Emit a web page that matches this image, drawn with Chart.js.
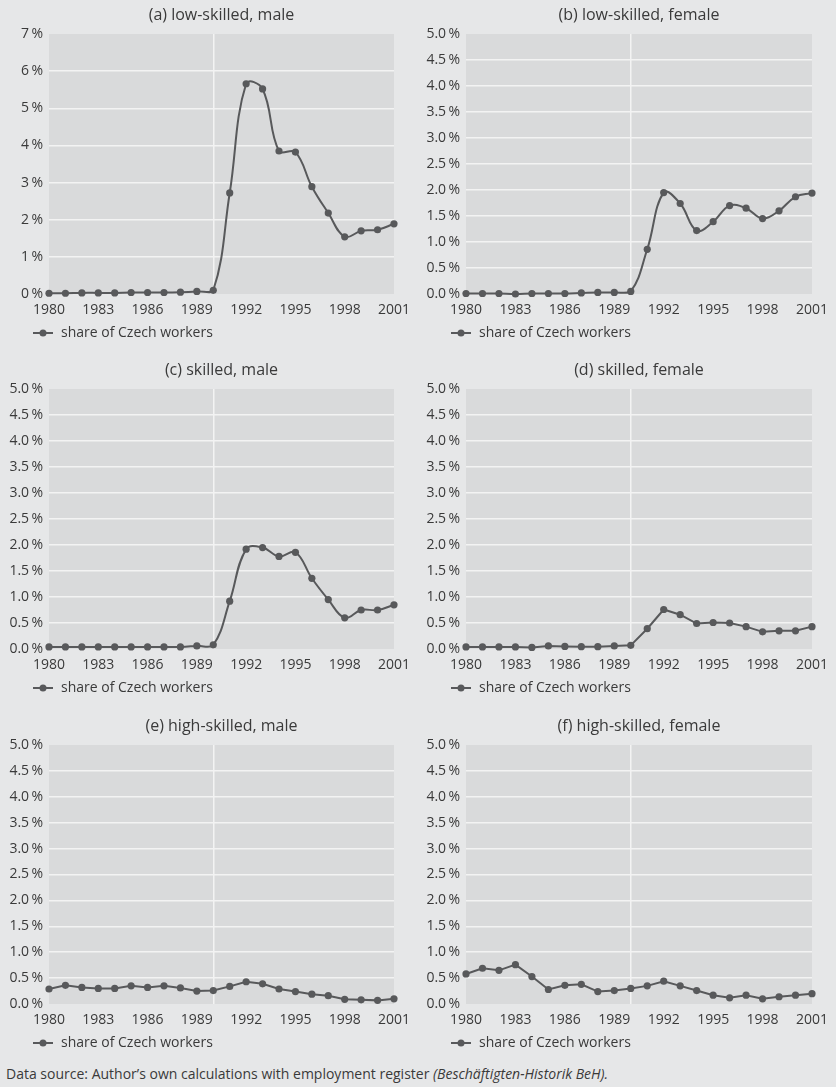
<!DOCTYPE html>
<html>
<head>
<meta charset="utf-8">
<script src="https://cdn.jsdelivr.net/npm/chart.js@4.4.1/dist/chart.umd.min.js"></script>
<style>
  html, body { margin: 0; padding: 0; background: #e6e7e8; }
  body { width: 836px; height: 1087px; position: relative; overflow: hidden; font-family: "Open Sans", sans-serif; }
  .panel { position: absolute; }
  #footer { position: absolute; left: 6px; top: 1064px; font-size: 14px; color: #3a3a3a; white-space: nowrap; }
</style>
</head>
<body>
<div class="panel" style="left:0;top:0;width:418px;height:350px"><canvas id="pa"></canvas></div>
<div class="panel" style="left:418px;top:0;width:418px;height:350px"><canvas id="pb"></canvas></div>
<div class="panel" style="left:0;top:350px;width:418px;height:355px"><canvas id="pc"></canvas></div>
<div class="panel" style="left:418px;top:350px;width:418px;height:355px"><canvas id="pd"></canvas></div>
<div class="panel" style="left:0;top:705px;width:418px;height:355px"><canvas id="pe"></canvas></div>
<div class="panel" style="left:418px;top:705px;width:418px;height:355px"><canvas id="pf"></canvas></div>
<div id="footer">Data source: Author’s own calculations with employment register <i>(Beschäftigten-Historik BeH).</i></div>
<script>
// ---- data (share of Czech workers, in %) ----
const years = ['1980','1981','1982','1983','1984','1985','1986','1987','1988','1989','1990',
               '1991','1992','1993','1994','1995','1996','1997','1998','1999','2000','2001'];
const lowSkilledMale    = [0.02,0.02,0.03,0.03,0.03,0.04,0.04,0.04,0.05,0.07,0.10,2.72,5.66,5.52,3.85,3.82,2.89,2.18,1.54,1.70,1.73,1.89];
const lowSkilledFemale  = [0.01,0.01,0.01,0.00,0.01,0.01,0.01,0.02,0.03,0.03,0.05,0.86,1.95,1.74,1.22,1.39,1.70,1.65,1.45,1.60,1.87,1.94];
const skilledMale       = [0.04,0.04,0.04,0.04,0.04,0.04,0.04,0.04,0.04,0.06,0.08,0.92,1.92,1.95,1.78,1.86,1.36,0.95,0.60,0.75,0.75,0.85];
const skilledFemale     = [0.04,0.04,0.04,0.04,0.03,0.06,0.05,0.045,0.045,0.06,0.07,0.39,0.76,0.66,0.49,0.51,0.50,0.43,0.33,0.35,0.35,0.43];
const highSkilledMale   = [0.29,0.36,0.32,0.30,0.30,0.35,0.32,0.35,0.31,0.25,0.26,0.34,0.43,0.39,0.29,0.24,0.19,0.16,0.09,0.08,0.07,0.10];
const highSkilledFemale = [0.58,0.69,0.65,0.76,0.53,0.28,0.36,0.38,0.24,0.26,0.30,0.35,0.44,0.35,0.26,0.17,0.12,0.17,0.10,0.14,0.17,0.20];
const panelTitles = ['(a) low-skilled, male','(b) low-skilled, female','(c) skilled, male',
                     '(d) skilled, female','(e) high-skilled, male','(f) high-skilled, female'];
const seriesLabel = 'share of Czech workers';
const shownYears = ['1980','1983','1986','1989','1992','1995','1998','2001'];
const markerYear = '1990';

// ---- style ----
const FONT = '"Open Sans", sans-serif';
const TEXT = '#3a3a3a';
const LINE = '#58595b';
const PLOT_BG = '#d9dadb';
const GRID = '#f3f3f3';

// legend marker: line with a dot
const marker = document.createElement('canvas');
marker.width = 20; marker.height = 8;
(function(){
  const c = marker.getContext('2d');
  c.strokeStyle = LINE; c.lineWidth = 2;
  c.beginPath(); c.moveTo(0,4); c.lineTo(20,4); c.stroke();
  c.fillStyle = LINE; c.beginPath(); c.arc(10,4,3.5,0,Math.PI*2); c.fill();
})();

const plotBg = {
  id: 'plotBg',
  beforeDraw(chart) {
    const a = chart.chartArea, c = chart.ctx;
    c.save(); c.fillStyle = PLOT_BG; c.fillRect(a.left, a.top, a.right - a.left, a.bottom - a.top); c.restore();
  }
};
const panelTitle = {
  id: 'panelTitle',
  afterLayout(chart) {
    if (chart.legend) chart.legend.left = 26;
  },
  afterDraw(chart, args, opts) {
    const a = chart.chartArea, c = chart.ctx;
    c.save();
    c.font = '16px ' + FONT; c.fillStyle = TEXT; c.textAlign = 'center'; c.textBaseline = 'middle';
    c.fillText(opts.text, (a.left + a.right) / 2, a.top - 19);
    c.restore();
  }
};

function makePanel(id, title, values, yMax, yStep, decimals, tension, padTop, yAxisW, padRight) {
  new Chart(document.getElementById(id), {
    type: 'line',
    data: {
      labels: years,
      datasets: [{
        label: seriesLabel,
        data: values,
        borderColor: LINE,
        backgroundColor: LINE,
        borderWidth: 2,
        pointRadius: 3.6,
        pointBackgroundColor: LINE,
        pointBorderWidth: 0,
        tension: tension,
        fill: false,
        clip: 8
      }]
    },
    options: {
      responsive: true,
      maintainAspectRatio: false,
      animation: false,
      events: [],
      layout: { autoPadding: false, padding: { top: padTop, left: 0, right: padRight, bottom: 0 } },
      scales: {
        x: {
          type: 'category',
          offset: false,
          border: { display: false },
          grid: {
            drawTicks: false,
            lineWidth: 1.5,
            color: (ctx) => (ctx.tick && years[ctx.index] === markerYear) ? GRID : 'rgba(0,0,0,0)'
          },
          ticks: {
            autoSkip: false, maxRotation: 0, padding: 8, color: TEXT,
            font: { family: FONT, size: 14 },
            callback: (v, i) => shownYears.includes(years[i]) ? years[i] : ''
          },
          afterFit: (s) => { s.height = 26; }
        },
        y: {
          min: 0, max: yMax,
          border: { display: false },
          grid: {
            drawTicks: false,
            lineWidth: 1.5,
            color: (ctx) => (ctx.tick && ctx.tick.value > 0 && ctx.tick.value < yMax) ? GRID : 'rgba(0,0,0,0)'
          },
          ticks: {
            stepSize: yStep, padding: 6, color: TEXT,
            font: { family: FONT, size: 14 },
            callback: (v) => v.toFixed(decimals) + '\u2009%'
          },
          afterFit: (s) => { s.width = yAxisW; }
        }
      },
      plugins: {
        legend: {
          position: 'bottom', align: 'start',
          labels: {
            usePointStyle: true, pointStyle: marker, pointStyleWidth: 22,
            padding: 6, color: TEXT, font: { family: FONT, size: 14 }
          }
        },
        title: { display: false },
        tooltip: { enabled: false },
        panelTitle: { text: title }
      }
    },
    plugins: [plotBg, panelTitle]
  });
}

makePanel('pa', panelTitles[0], lowSkilledMale,    7, 1,   0, 0.4, 34, 49, 19);
makePanel('pb', panelTitles[1], lowSkilledFemale,  5, 0.5, 1, 0.4, 34, 48, 20);
makePanel('pc', panelTitles[2], skilledMale,       5, 0.5, 1, 0.4, 39, 49, 19);
makePanel('pd', panelTitles[3], skilledFemale,     5, 0.5, 1, 0,   39, 48, 20);
makePanel('pe', panelTitles[4], highSkilledMale,   5, 0.5, 1, 0,   40, 49, 19);
makePanel('pf', panelTitles[5], highSkilledFemale, 5, 0.5, 1, 0,   40, 48, 20);
</script>
</body>
</html>
